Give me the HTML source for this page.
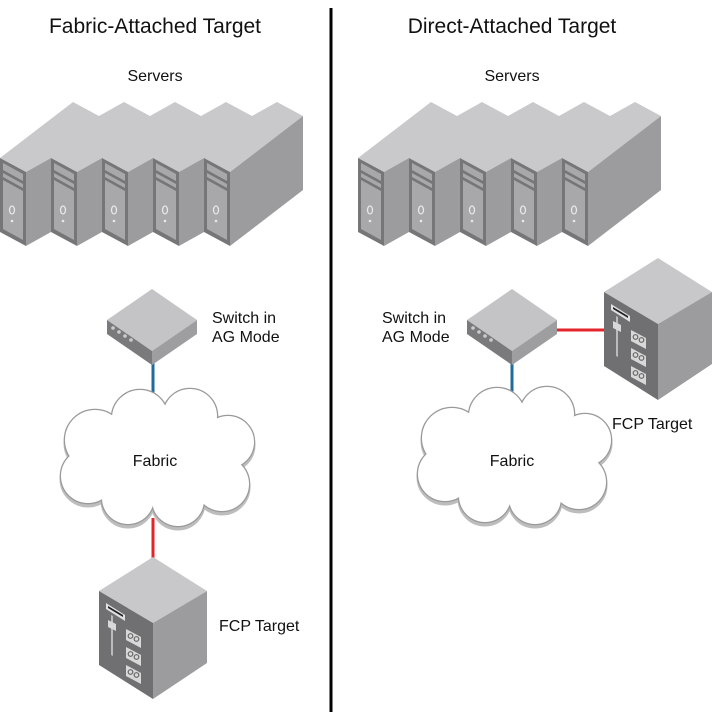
<!DOCTYPE html>
<html><head><meta charset="utf-8"><style>
html,body{margin:0;padding:0;background:#fff;}
svg{display:block;}
text{font-family:"Liberation Sans",Arial,sans-serif;fill:#111;}
</style></head><body>
<svg width="717" height="720" viewBox="0 0 717 720" xmlns="http://www.w3.org/2000/svg">
<defs>
<g id="front">
  <polygon points="0,158 26,172 26,246 0,232" fill="#767678"/>
  <polygon points="3,163 23,174 23,240 3,229" fill="#a8a8aa"/>
  <polygon points="3,170 23,181 23,184 3,173" fill="#767678"/>
  <polygon points="3,177 23,188 23,191 3,180" fill="#767678"/>
  <ellipse cx="12" cy="210" rx="2.5" ry="4" fill="none" stroke="#e8e8e8" stroke-width="1.3"/>
  <circle cx="12" cy="221" r="1.3" fill="#e8e8e8"/>
</g>
<g id="strip">
  <polygon points="26,172 51,158 51,232 26,246" fill="#9c9c9e"/>
</g>
<g id="servers">
  <polygon points="0,158 73,102 99,116 124,102 150,116 175,102 201,116 226,102 252,116 277,102 303,116 230,172 204,158 179,172 153,158 128,172 102,158 77,172 51,158 26,172" fill="#c9c9cb"/>
  <polygon points="230,172 303,116 303,190 230,246" fill="#9c9c9e"/>
  <use href="#strip"/><use href="#strip" x="51"/><use href="#strip" x="102"/><use href="#strip" x="153"/>
  <use href="#front"/>
  <use href="#front" x="51"/>
  <use href="#front" x="102"/>
  <use href="#front" x="153"/>
  <use href="#front" x="204"/>
</g>
<g id="sw">
  <polygon points="-45,0 0,-31 45,0 0,31" fill="#c4c4c6"/>
  <polygon points="-45,0 0,31 0,45 -45,14" fill="#7a7a7c"/>
  <polygon points="0,31 45,0 45,14 0,45" fill="#9e9ea0"/>
  <circle cx="-39" cy="8" r="1.8" fill="#ccc"/>
  <circle cx="-33" cy="12" r="1.8" fill="#ccc"/>
  <circle cx="-27" cy="16" r="1.8" fill="#ccc"/>
  <circle cx="-21" cy="20" r="1.8" fill="#ccc"/>
</g>
<g id="tgt">
  <polygon points="0,0 54,34 0,66 -54,34" fill="#c8c8ca"/>
  <polygon points="-54,34 0,66 0,142 -54,108" fill="#707072"/>
  <polygon points="0,66 54,34 54,106 0,142" fill="#9c9c9e"/>
  <polygon points="-47,46 -28,58 -28,64 -47,52" fill="#e0e0e0"/>
  <polygon points="-45,49 -30,58 -30,60 -45,51" fill="#222"/>
  <polygon points="-42,58 -40,59 -40,99 -42,98" fill="#bbb"/>
  <polygon points="-45,63 -37,67 -37,74 -45,70" fill="#d8d8d8"/>
  <g fill="#d8d8d8">
    <polygon points="-27,72 -12,80 -12,91 -27,83"/>
    <polygon points="-27,90 -12,98 -12,109 -27,101"/>
    <polygon points="-27,108 -12,116 -12,127 -27,119"/>
  </g>
  <g fill="none" stroke="#666" stroke-width="1.2">
    <circle cx="-22.5" cy="79" r="2.3"/><circle cx="-16.5" cy="82" r="2.3"/>
    <circle cx="-22.5" cy="97" r="2.3"/><circle cx="-16.5" cy="100" r="2.3"/>
    <circle cx="-22.5" cy="115" r="2.3"/><circle cx="-16.5" cy="118" r="2.3"/>
  </g>
</g>
<g id="cloudc">
  <circle cx="95" cy="440" r="30"/><circle cx="140" cy="418" r="28"/>
  <circle cx="190" cy="416" r="27"/><circle cx="228" cy="442" r="26"/>
  <circle cx="222" cy="484" r="27"/><circle cx="178" cy="500" r="26"/>
  <circle cx="128" cy="498" r="26"/><circle cx="88" cy="476" r="27"/>
  <circle cx="155" cy="458" r="45"/><circle cx="200" cy="460" r="32"/>
  <circle cx="110" cy="460" r="32"/>
</g>
<g id="cloud">
  <use href="#cloudc" fill="#bdbdbd" stroke="#bdbdbd" stroke-width="3" transform="translate(0,3)"/>
  <use href="#cloudc" fill="#fff" stroke="#9a9a9a" stroke-width="2.5"/>
  <use href="#cloudc" fill="#fff" stroke="none"/>
</g>
</defs>

<line x1="331" y1="8" x2="331" y2="712" stroke="#000" stroke-width="3"/>

<text x="155" y="33" font-size="21" text-anchor="middle">Fabric-Attached Target</text>
<text x="512" y="33" font-size="21" text-anchor="middle">Direct-Attached Target</text>
<text x="155" y="81" font-size="16" text-anchor="middle">Servers</text>
<text x="512" y="81" font-size="16" text-anchor="middle">Servers</text>

<use href="#servers"/>
<use href="#servers" x="358"/>

<!-- left -->
<line x1="153" y1="355" x2="153" y2="414" stroke="#1f6c9c" stroke-width="3"/>
<line x1="153" y1="518" x2="153" y2="560" stroke="#e3242b" stroke-width="3"/>
<use href="#cloud"/>
<use href="#sw" x="152" y="320"/>
<use href="#tgt" x="153" y="557"/>
<text x="155" y="466" font-size="16" text-anchor="middle">Fabric</text>
<text x="212" y="323" font-size="16">Switch in</text>
<text x="212" y="342" font-size="16">AG Mode</text>
<text x="219" y="631" font-size="16">FCP Target</text>

<!-- right -->
<line x1="512" y1="355" x2="512" y2="415" stroke="#1f6c9c" stroke-width="3"/>
<line x1="556" y1="330" x2="605" y2="330" stroke="#e3242b" stroke-width="3"/>
<use href="#cloud" x="357" y="-2"/>
<use href="#sw" x="512" y="320"/>
<use href="#tgt" x="658" y="258"/>
<text x="512" y="466" font-size="16" text-anchor="middle">Fabric</text>
<text x="382" y="323" font-size="16">Switch in</text>
<text x="382" y="342" font-size="16">AG Mode</text>
<text x="612" y="429" font-size="16">FCP Target</text>
</svg>
</body></html>
